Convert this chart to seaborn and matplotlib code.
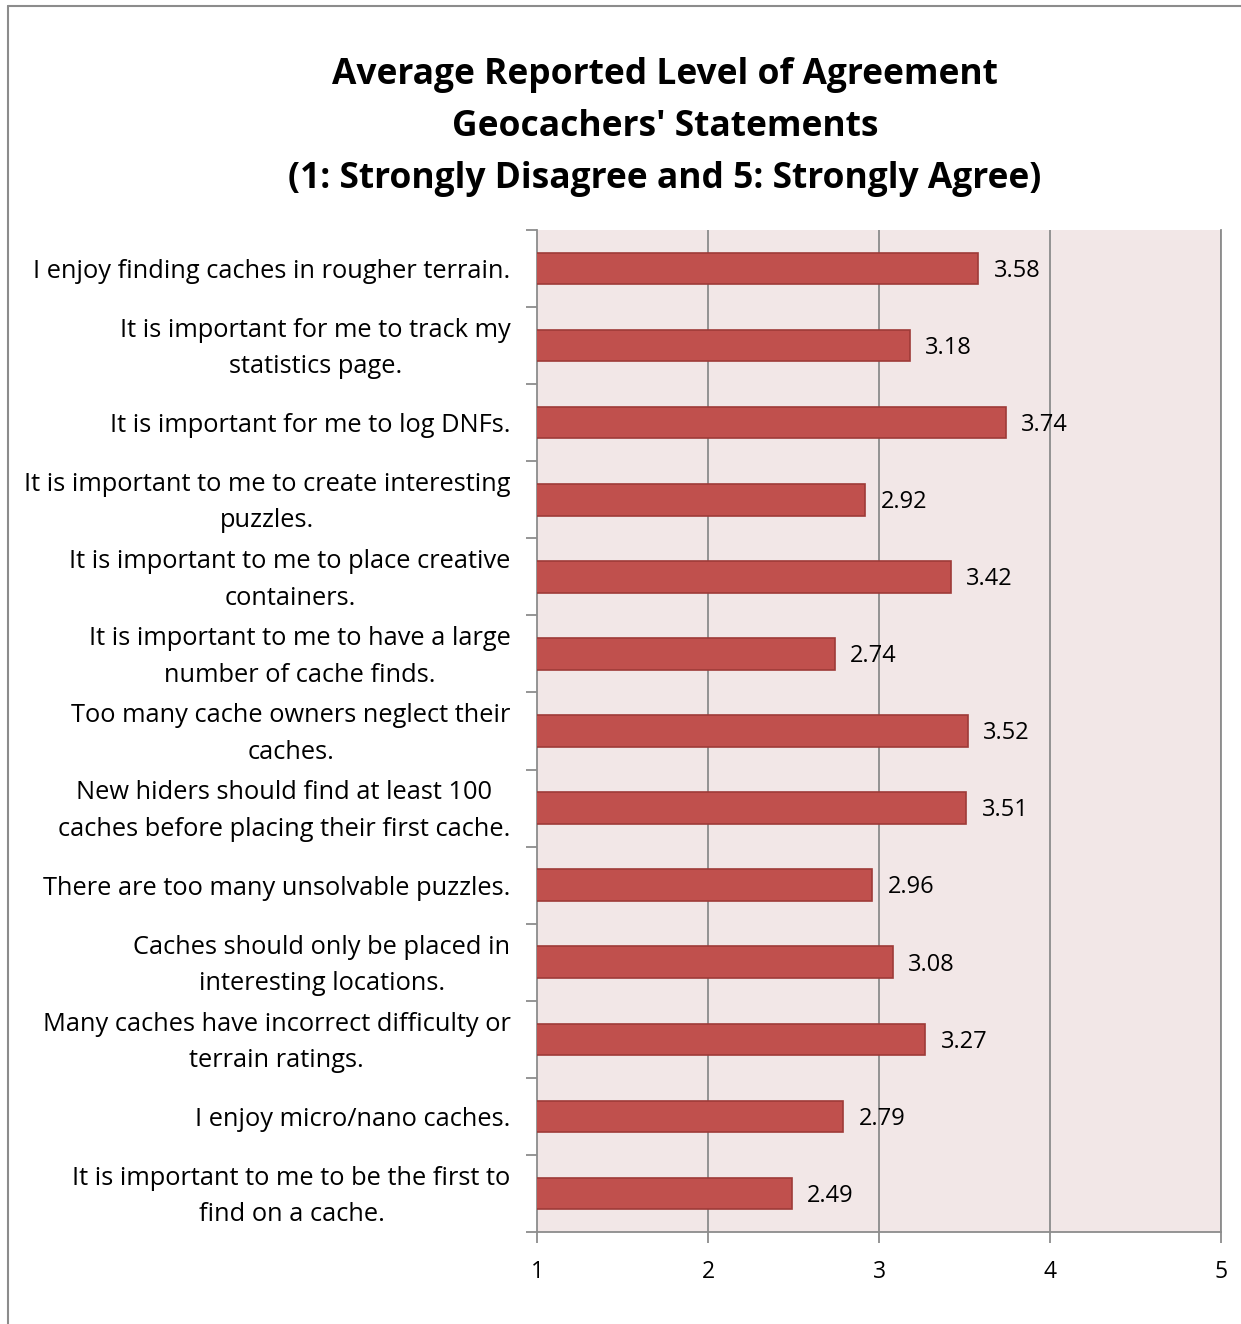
import matplotlib
matplotlib.use("Agg")
import matplotlib.pyplot as plt
import matplotlib.transforms as mtransforms
import seaborn as sns
import pandas as pd
from matplotlib.lines import Line2D
from matplotlib.ticker import FixedLocator

statements = [
    "I enjoy finding caches in rougher terrain.",
    "It is important for me to track my\nstatistics page.",
    "It is important for me to log DNFs.",
    "It is important to me to create interesting\npuzzles.",
    "It is important to me to place creative\ncontainers.",
    "It is important to me to have a large\nnumber of cache finds.",
    "Too many cache owners neglect their\ncaches.",
    "New hiders should find at least 100\ncaches before placing their first cache.",
    "There are too many unsolvable puzzles.",
    "Caches should only be placed in\ninteresting locations.",
    "Many caches have incorrect difficulty or\nterrain ratings.",
    "I enjoy micro/nano caches.",
    "It is important to me to be the first to\nfind on a cache.",
]
values = [3.58, 3.18, 3.74, 2.92, 3.42, 2.74, 3.52, 3.51, 2.96, 3.08, 3.27, 2.79, 2.49]
x_ticks = [1, 2, 3, 4, 5]

df = pd.DataFrame({"statement": statements, "value": values})

sns.set_theme(style="white")
plt.rcParams["font.family"] = ["Open Sans", "DejaVu Sans"]

fig = plt.figure(figsize=(12.41, 13.24), dpi=100)
ax = fig.add_axes([537 / 1241, 1 - 1232 / 1324, (1221 - 537) / 1241, (1232 - 230) / 1324])
ax.set_facecolor("#F2E7E7")

sns.barplot(data=df, x="value", y="statement", orient="h", color="#C0504D",
            saturation=1, width=0.41, edgecolor="#9E3B38", linewidth=1.2, ax=ax, zorder=3)

ax.set_xlim(1, 5)
ax.set_ylim(len(values) - 0.5, -0.5)
ax.set_xticks(x_ticks)
ax.set_xticklabels([str(t) for t in x_ticks], fontsize=16.5)
ax.set_xlabel("")
ax.set_ylabel("")
ax.tick_params(axis="y", which="major", length=0, labelsize=18.3, pad=19, colors="black")
ax.yaxis.set_minor_locator(FixedLocator([i - 0.5 for i in range(len(values) + 1)]))
ax.tick_params(axis="y", which="minor", length=8, width=1.3, color="#8C8C8C", left=True)
ax.tick_params(axis="x", which="major", length=8, width=1.3, color="#8C8C8C", bottom=True, pad=12, colors="black")
shift = mtransforms.ScaledTranslation(0, -3 / 100, fig.dpi_scale_trans)
for lbl in ax.get_yticklabels():
    lbl.set_horizontalalignment("right")
    lbl.set_multialignment("center")
    lbl.set_linespacing(1.6)
    lbl.set_verticalalignment("center")
    lbl.set_transform(lbl.get_transform() + shift)

for x in x_ticks[1:]:
    ax.axvline(x, color="#8C8C8C", linewidth=1.3, zorder=1)

ax.spines["top"].set_visible(False)
for s in ["left", "bottom", "right"]:
    ax.spines[s].set_color("#8C8C8C")
    ax.spines[s].set_linewidth(1.3)

for i, v in enumerate(values):
    ax.text(v + 0.09, i + 0.03, f"{v:.2f}", va="center", ha="left", fontsize=17, color="black", zorder=4)

fig.text(665 / 1241, 1 - 127 / 1324,
         "Average Reported Level of Agreement\nGeocachers' Statements\n(1: Strongly Disagree and 5: Strongly Agree)",
         ha="center", va="center", fontsize=25.5, fontweight="bold", linespacing=1.6, color="black")

fig.add_artist(Line2D([8 / 1241, 8 / 1241], [0, 1 - 6 / 1324], transform=fig.transFigure, color="#8C8C8C", linewidth=1.5))
fig.add_artist(Line2D([8 / 1241, 1], [1 - 6 / 1324, 1 - 6 / 1324], transform=fig.transFigure, color="#8C8C8C", linewidth=1.5))

fig.savefig("out.png", dpi=100, facecolor="white")
